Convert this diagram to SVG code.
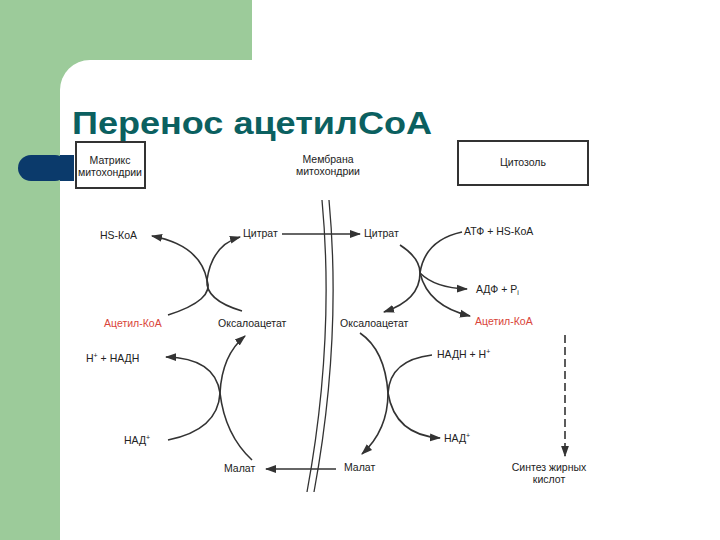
<svg xmlns="http://www.w3.org/2000/svg" width="720" height="540" viewBox="0 0 720 540">
<defs>
<style>
text{font-family:"Liberation Sans",Arial,sans-serif;font-size:10.5px;fill:#222}
.r{fill:#d9453a}
.c{fill:none;stroke:#333;stroke-width:1.6}
.m{fill:none;stroke:#333;stroke-width:1.3}
.b{fill:#fff;stroke:#333;stroke-width:2}
</style>
<marker id="a" viewBox="0 0 10 10" refX="9" refY="5" markerWidth="7" markerHeight="7" orient="auto"><path d="M0,1.5 L10,5 L0,8.5 Z" fill="#333"/></marker>
</defs>
<rect width="720" height="540" fill="#fff"/>
<rect x="0" y="0" width="252" height="90" fill="#9ccb9a"/>
<rect x="0" y="0" width="60" height="540" fill="#9ccb9a"/>
<path d="M60,540 V90 A30,30 0 0 1 90,60 H720 V540 Z" fill="#fff"/>
<rect x="18" y="155" width="50" height="26" rx="13" fill="#0b3a6b"/>
<rect x="60" y="155" width="14" height="26" fill="#0b3a6b"/>
<text x="72" y="134" textLength="360" lengthAdjust="spacingAndGlyphs" style="font-size:31px;font-weight:bold;fill:#0b6060">Перенос ацетилCoA</text>
<g id="matrix"><rect class="b" x="76" y="142" width="69" height="46"/><text x="110" y="164" text-anchor="middle">Матрикс</text><text x="110" y="176" text-anchor="middle">митохондрии</text></g>
<g id="membrane-label"><text x="328" y="163" text-anchor="middle">Мембрана</text><text x="328" y="175" text-anchor="middle">митохондрии</text></g>
<g id="cytosol"><rect class="b" x="458" y="141" width="130" height="44"/><text x="523" y="166" text-anchor="middle">Цитозоль</text></g>
<g id="membrane"><path class="m" d="M322,200 Q335,340 307,492"/><path class="m" d="M329,200 Q342,340 314,492"/></g>
<g id="hs1"><text x="100" y="239">HS-КоА</text></g>
<g id="cit1"><text x="243" y="237">Цитрат</text></g>
<g id="cit2"><text x="364" y="237">Цитрат</text></g>
<g id="atf"><text x="464" y="235">АТФ + HS-КоА</text></g>
<g id="adf"><text x="476" y="293">АДФ + P<tspan font-size="7" dy="2">i</tspan></text></g>
<g id="acoa1"><text class="r" x="104" y="327">Ацетил-КоА</text></g>
<g id="oxa1"><text x="218" y="327">Оксалоацетат</text></g>
<g id="oxa2"><text x="340" y="327">Оксалоацетат</text></g>
<g id="acoa2"><text class="r" x="475" y="325">Ацетил-КоА</text></g>
<g id="nadh1"><text x="86" y="362">H<tspan font-size="7" dy="-4">+</tspan><tspan dy="4"> + НАДН</tspan></text></g>
<g id="nadh2"><text x="437" y="358">НАДН + H<tspan font-size="7" dy="-4">+</tspan></text></g>
<g id="nad1"><text x="124" y="444">НАД<tspan font-size="7" dy="-4">+</tspan></text></g>
<g id="nad2"><text x="444" y="442">НАД<tspan font-size="7" dy="-4">+</tspan></text></g>
<g id="mal1"><text x="224" y="472">Малат</text></g>
<g id="mal2"><text x="344" y="471">Малат</text></g>
<g id="fa"><text x="549" y="471" text-anchor="middle">Синтез жирных</text><text x="549" y="483" text-anchor="middle">кислот</text></g>
<g id="connectors">
<path class="c" marker-end="url(#a)" d="M282,234 H360"/>
<path class="c" marker-end="url(#a)" d="M336,469 H266"/>
<path class="c" d="M168,315 Q215,300 207,280" /><path class="c" marker-end="url(#a)" d="M207,280 Q200,245 152,236"/>
<path class="c" d="M242,311 Q205,300 207,280"/><path class="c" marker-end="url(#a)" d="M207,280 Q212,245 240,237"/>
<path class="c" d="M400,245 Q420,258 420,273"/><path class="c" marker-end="url(#a)" d="M420,273 Q420,300 384,312"/>
<path class="c" d="M462,232 Q425,240 420,273"/><path class="c" marker-end="url(#a)" d="M420,273 Q435,288 467,289"/><path class="c" marker-end="url(#a)" d="M420,273 Q428,306 470,316"/>
<path class="c" d="M168,440 Q218,430 220,393"/><path class="c" marker-end="url(#a)" d="M220,393 Q215,358 166,357"/>
<path class="c" d="M252,460 Q225,435 220,393"/><path class="c" marker-end="url(#a)" d="M220,393 Q222,355 245,336"/>
<path class="c" d="M360,333 Q385,350 388,393"/><path class="c" marker-end="url(#a)" d="M388,393 Q395,435 440,438"/>
<path class="c" d="M432,355 Q390,360 388,393"/><path class="c" marker-end="url(#a)" d="M388,393 Q388,430 362,454"/>
<path class="c" marker-end="url(#a)" d="M565,335 V456" stroke-dasharray="8,4"/>
</g>
</svg>
